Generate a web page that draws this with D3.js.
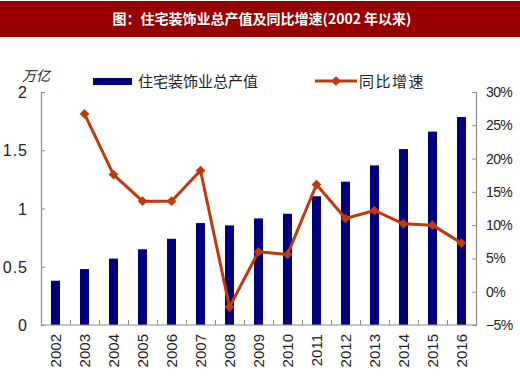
<!DOCTYPE html>
<html><head><meta charset="utf-8">
<script src="https://cdn.jsdelivr.net/npm/d3@7"></script>
<style>
html,body{margin:0;padding:0;background:#fff;}
svg{display:block;}
</style></head>
<body>
<svg id="c" width="520" height="385"></svg>
<script>
const years = ["2002","2003","2004","2005","2006","2007","2008","2009","2010","2011","2012","2013","2014","2015","2016"];
const outputValues = [0.38,0.48,0.57,0.65,0.74,0.875,0.855,0.915,0.955,1.105,1.23,1.37,1.51,1.66,1.785];
const growthValues = [null,26.7,17.6,13.6,13.6,18.2,-2.3,6.0,5.6,16.1,11.0,12.2,10.2,10.0,7.3];
const leftTicks = [0,0.5,1,1.5,2];
const leftTickLabels = ["0","0.5","1","1.5","2"];
const rightTicks = [-5,0,5,10,15,20,25,30];
const titleText = "图：住宅装饰业总产值及同比增速(2002 年以来)";
const seriesNames = ["住宅装饰业总产值","同比增速"];
const unitLabel = "万亿";

const svg = d3.select("#c");
const L = 41, R = 476, T = 92, B = 325;
const barColor = "#00007f", lineColor = "#c0380c", axisColor = "#8c8c8c";

// title band
svg.append("rect").attr("x",0).attr("y",1).attr("width",520).attr("height",36).attr("fill","#960000");
svg.append("text").attr("x",262).attr("y",24).attr("text-anchor","middle")
  .attr("fill","#fff").attr("font-size",14).attr("font-weight","bold")
  .attr("font-family","'Noto Sans CJK SC', sans-serif").text(titleText);

const x = d3.scaleBand().domain(years).range([L,R]).paddingInner(0).paddingOuter(0);
const yL = d3.scaleLinear().domain([0,2]).range([B,T]);
const yR = d3.scaleLinear().domain([-5,30]).range([B,T]);
const bw = 9;

// bars
svg.append("g").selectAll("rect").data(years).join("rect")
  .attr("x",d=>x(d)+x.bandwidth()/2-bw/2).attr("width",bw)
  .attr("y",(d,i)=>yL(outputValues[i])).attr("height",(d,i)=>B-yL(outputValues[i]))
  .attr("fill",barColor);

// axes
const axL = svg.append("g").attr("transform",`translate(${L},0)`)
  .call(d3.axisRight(yL).tickValues(leftTicks).tickSize(4).tickFormat(""));
const axR = svg.append("g").attr("transform",`translate(${R},0)`)
  .call(d3.axisLeft(yR).tickValues(rightTicks).tickSize(4).tickFormat(""));
const bandEdges = d3.range(years.length+1).map(i=>L+i*x.bandwidth());
const xEdge = d3.scaleLinear().domain([L,R]).range([L,R]);
const axB = svg.append("g").attr("transform",`translate(0,${B})`)
  .call(d3.axisTop(xEdge).tickValues(bandEdges.slice(1,-1)).tickSize(5).tickFormat(""));
[axL,axR,axB].forEach(a=>{
  a.selectAll("path.domain").attr("stroke",axisColor).attr("stroke-width",1.2);
  a.selectAll("line").attr("stroke",axisColor).attr("stroke-width",1);
});
axB.select("path.domain").attr("d",`M${L},0H${R}`);

// left tick labels
svg.append("g").selectAll("text").data(leftTicks).join("text")
  .attr("x",28).attr("y",d=>yL(d)+6).attr("text-anchor","end")
  .attr("font-size",16).attr("fill","#222").attr("font-family","'Liberation Sans', sans-serif")
  .attr("letter-spacing",1)
  .text((d,i)=>leftTickLabels[i]);

// right tick labels
svg.append("g").selectAll("text").data(rightTicks).join("text")
  .attr("x",486).attr("y",d=>yR(d)+5).attr("text-anchor","start")
  .attr("font-size",14).attr("fill","#222").attr("font-family","'Liberation Sans', sans-serif")
  .attr("letter-spacing",-0.6)
  .text(d=>(d<0?"\u2212"+(-d):d)+"%");

// x labels
svg.append("g").selectAll("text").data(years).join("text")
  .attr("transform",d=>`translate(${x(d)+x.bandwidth()/2+5.5},334) rotate(-90)`)
  .attr("text-anchor","end").attr("font-size",15).attr("fill","#222")
  .attr("font-family","'Liberation Sans', sans-serif").text(d=>d);

// unit label
svg.append("text").attr("x",22).attr("y",81).attr("font-size",14).attr("font-style","italic")
  .attr("fill","#222").attr("font-family","'Noto Sans CJK SC', sans-serif").text(unitLabel);

// line
const pts = years.map((d,i)=>({x:x(d)+x.bandwidth()/2, v:growthValues[i]})).filter(p=>p.v!==null);
svg.append("path").datum(pts)
  .attr("d",d3.line().x(p=>p.x).y(p=>yR(p.v)))
  .attr("fill","none").attr("stroke",lineColor).attr("stroke-width",3).attr("stroke-linejoin","round");
const diamond = d3.symbol().type(d3.symbolDiamond2).size(60);
svg.append("g").selectAll("path").data(pts).join("path")
  .attr("transform",p=>`translate(${p.x},${yR(p.v)})`).attr("d",diamond).attr("fill",lineColor);

// legend
svg.append("rect").attr("x",93).attr("y",78).attr("width",39).attr("height",7).attr("fill",barColor);
svg.append("text").attr("x",138).attr("y",87).attr("font-size",15).attr("fill","#222")
  .attr("font-family","'Noto Sans CJK SC', sans-serif").text(seriesNames[0]);
svg.append("line").attr("x1",315).attr("x2",357).attr("y1",81).attr("y2",81)
  .attr("stroke",lineColor).attr("stroke-width",3);
svg.append("path").attr("transform","translate(336,81)").attr("d",diamond).attr("fill",lineColor);
svg.append("text").attr("x",359).attr("y",87).attr("font-size",15).attr("fill","#222")
  .attr("letter-spacing",1.5)
  .attr("font-family","'Noto Sans CJK SC', sans-serif").text(seriesNames[1]);
</script>
</body></html>
